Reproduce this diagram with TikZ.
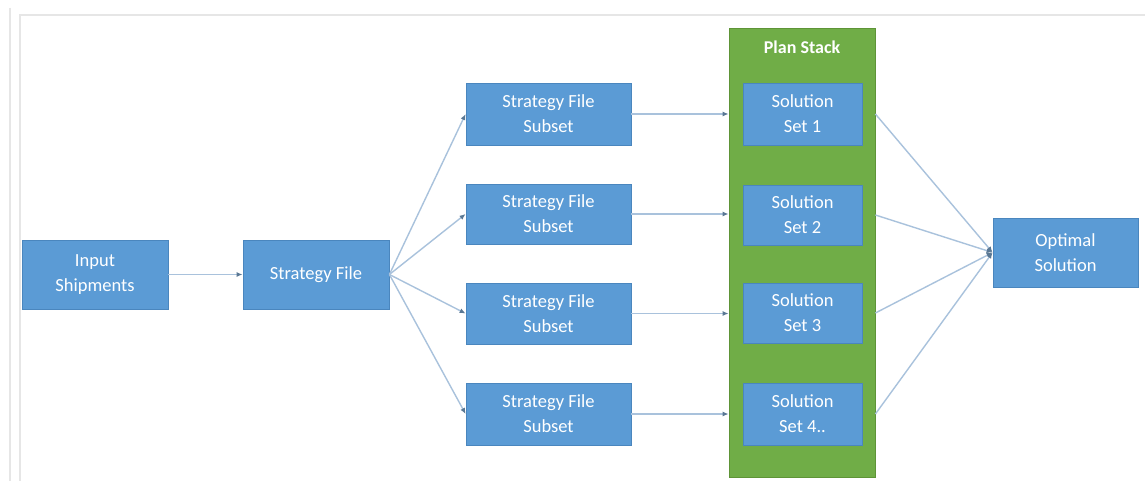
\documentclass[tikz,border=0pt]{standalone}
\usepackage{fontspec}
\setmainfont{Carlito}
\usetikzlibrary{arrows.meta,calc}
\definecolor{boxblue}{HTML}{5B9BD5}
\definecolor{boxedge}{HTML}{4A86BE}
\definecolor{stackgreen}{HTML}{70AD47}
\definecolor{stackedge}{HTML}{5E9437}
\definecolor{linecol}{HTML}{A9C2DC}
\definecolor{tipcol}{HTML}{5A7894}
\definecolor{framecol}{HTML}{E6E6E6}
\tikzset{
  bluebox/.style={draw=boxedge, line width=0.8pt, fill=boxblue, text=white, align=center,
    font=\fontsize{18.5}{25}\selectfont, minimum width=#1, inner sep=0pt},
  conn/.style={draw=linecol, line width=1.4pt, -{Latex[length=6pt,width=5pt,color=tipcol]}},
}
\begin{document}
\begin{tikzpicture}[x=1pt,y=-1pt]
\useasboundingbox (0,0) rectangle (1145,481);
\fill[white] (0,0) rectangle (1145,481);
% screenshot frame
\draw[framecol, line width=1.5pt] (10,8) -- (10,481);
\draw[framecol, line width=1.5pt] (20,481) -- (20,15) -- (1145,15);
% plan stack
\node[draw=stackedge, line width=0.8pt, fill=stackgreen, minimum width=146pt, minimum height=449pt, inner sep=0pt] (stack) at (802,252.5) {};
\node[text=white, font=\fontsize{18}{20}\selectfont\bfseries] (stacktitle) at (802,47) {Plan Stack};
% nodes
\node[bluebox=146pt, minimum height=69pt] (input) at (95,274.5) {Input\\Shipments};
\node[bluebox=146pt, minimum height=69pt] (strat) at (316,274.5) {Strategy File};
\node[bluebox=165pt, minimum height=62pt] (sub1) at (548.5,114) {Strategy File\\Subset};
\node[bluebox=165pt, minimum height=60pt] (sub2) at (548.5,214) {Strategy File\\Subset};
\node[bluebox=165pt, minimum height=61pt] (sub3) at (548.5,313.5) {Strategy File\\Subset};
\node[bluebox=165pt, minimum height=62pt] (sub4) at (548.5,414) {Strategy File\\Subset};
\node[bluebox=119pt, minimum height=62pt] (sol1) at (802.5,114) {Solution\\Set 1};
\node[bluebox=119pt, minimum height=60pt] (sol2) at (802.5,215) {Solution\\Set 2};
\node[bluebox=119pt, minimum height=60pt] (sol3) at (802.5,313) {Solution\\Set 3};
\node[bluebox=119pt, minimum height=62pt] (sol4) at (802.5,414) {Solution\\Set 4..};
\node[bluebox=145pt, minimum height=69pt] (opt) at (1065.5,252.5) {Optimal\\Solution};
% connectors
\draw[conn] (input.east) -- (strat.west);
\draw[conn] (strat.east) -- (sub1.west);
\draw[conn] (strat.east) -- (sub2.west);
\draw[conn] (strat.east) -- (sub3.west);
\draw[conn] (strat.east) -- (sub4.west);
\draw[conn] (sub1.east) -- (sub1.east -| stack.west);
\draw[conn] (sub2.east) -- (sub2.east -| stack.west);
\draw[conn] (sub3.east) -- (sub3.east -| stack.west);
\draw[conn] (sub4.east) -- (sub4.east -| stack.west);
\draw[conn] (sol1.east -| stack.east) -- (opt.west);
\draw[conn] (sol2.east -| stack.east) -- (opt.west);
\draw[conn] (sol3.east -| stack.east) -- (opt.west);
\draw[conn] (sol4.east -| stack.east) -- (opt.west);
\end{tikzpicture}
\end{document}
